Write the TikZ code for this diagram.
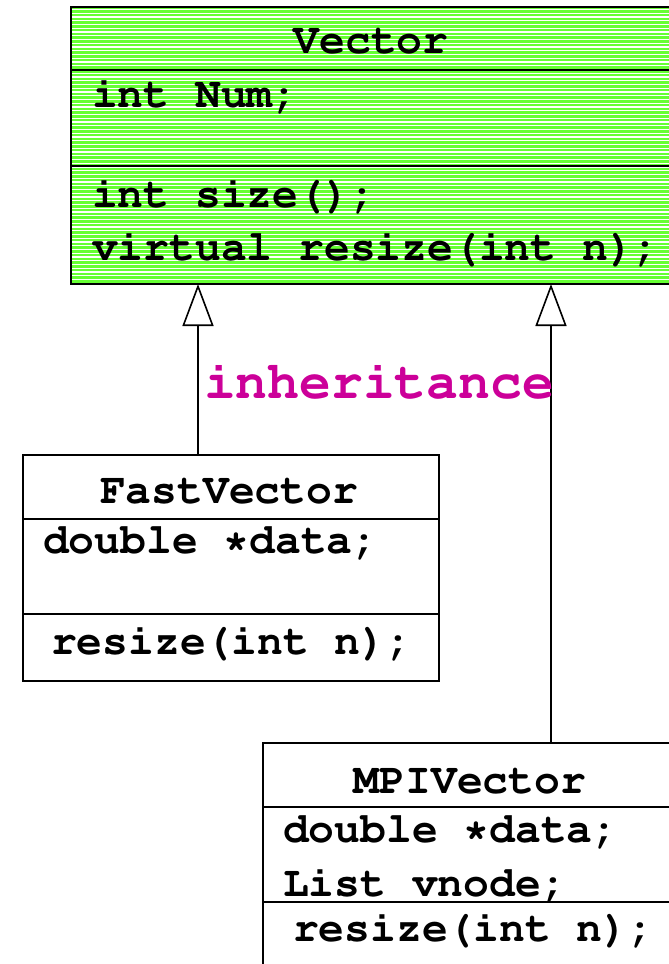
\documentclass[tikz,border=0pt]{standalone}
\usepackage{fontspec}
\usetikzlibrary{arrows.meta}
\definecolor{vgreen}{HTML}{66FF33}
\definecolor{inhcol}{HTML}{CC0099}
\newcommand{\courierbold}{\fontencoding{T1}\fontfamily{pcr}\fontseries{b}\selectfont}
\begin{document}
\begin{tikzpicture}[x=1pt,y=-1pt,
  classbox/.style={draw=black, line width=1.6pt, inner sep=0pt, outer sep=0pt, anchor=north west},
  divider/.style={draw=black, line width=1.6pt},
  txt/.style={font=\fontsize{43}{50}\courierbold, inner sep=0pt, outer sep=0pt},
  lbl/.style={font=\fontsize{53}{60}\courierbold, text=inhcol, inner sep=0pt},
  conn/.style={draw=black, line width=1.6pt, -{Triangle[open, length=42pt, width=31pt]}}]
\useasboundingbox (0,0) rectangle (669,964);
\clip (0,0) rectangle (669,964);

% Vector class (striped green)
\node[classbox, fill=vgreen, minimum width=602pt, minimum height=277pt] (vector) at (71,7) {};
\begin{scope}
  \clip (71.8,7.8) rectangle (672.2,283.2);
  \foreach \y in {9.5,13.25,...,284} \draw[white, line width=1.1pt] (71,\y) -- (673,\y);
\end{scope}
\draw[divider] (vector.north west) rectangle (vector.south east);
\draw[divider] (vector.west |- 0,70) -- (vector.east |- 0,70);
\draw[divider] (vector.west |- 0,166) -- (vector.east |- 0,166);
\node[txt, anchor=base] (vname) at (371,53) {Vector};
\node[txt, anchor=base west] (vnum) at (92,107) {int Num;};
\node[txt, anchor=base west] (vsize) at (92,207) {int size();};
\node[txt, anchor=base west] (vresize) at (92,260) {virtual resize(int n);};

% FastVector class
\node[classbox, minimum width=416pt, minimum height=226pt] (fast) at (23,455) {};
\draw[divider] (fast.west |- 0,519) -- (fast.east |- 0,519);
\draw[divider] (fast.west |- 0,614) -- (fast.east |- 0,614);
\node[txt, anchor=base] (fname) at (229,503) {FastVector};
\node[txt, anchor=base west] (fdata) at (43,553) {double *data;};
\node[txt, anchor=base west] (fresize) at (51,654) {resize(int n);};

% MPIVector class
\node[classbox, minimum width=414pt, minimum height=260pt] (mpi) at (263,743) {};
\draw[divider] (mpi.west |- 0,807) -- (mpi.east |- 0,807);
\draw[divider] (mpi.west |- 0,902) -- (mpi.east |- 0,902);
\node[txt, anchor=base] (mname) at (470,793) {MPIVector};
\node[txt, anchor=base west] (mdata) at (283,842) {double *data;};
\node[txt, anchor=base west] (mlist) at (283,896) {List vnode;};
\node[txt, anchor=base west] (mresize) at (293,941) {resize(int n);};

% connectors
\coordinate (c1) at (198,0);
\coordinate (c2) at (551,0);
\draw[conn] (fast.north -| c1) -- (vector.south -| c1);
\draw[conn] (mpi.north -| c2) -- (vector.south -| c2);

\node[lbl, anchor=base] (inh) at (379,398) {inheritance};
\end{tikzpicture}
\end{document}
